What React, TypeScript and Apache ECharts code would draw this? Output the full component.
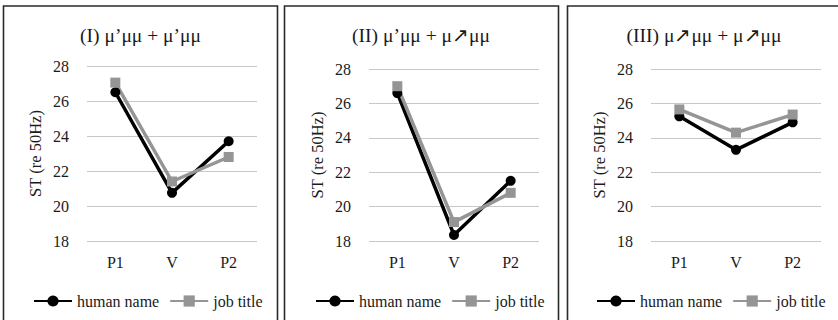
import React, { useEffect, useRef } from "react";
import * as echarts from "echarts";

const categories = ["P1", "V", "P2"];
const titles = ["(I) μ’μμ + μ’μμ", "(II) μ’μμ + μ↗μμ", "(III) μ↗μμ + μ↗μμ"];
const humanI = [26.5, 20.75, 23.7];
const jobI = [27.05, 21.4, 22.8];
const humanII = [26.6, 18.35, 21.5];
const jobII = [27.0, 19.1, 20.8];
const humanIII = [25.25, 23.3, 24.9];
const jobIII = [25.65, 24.3, 25.35];
const yTicks = [18, 20, 22, 24, 26, 28];
const seriesNames = ["human name", "job title"];

const FONT = "Times New Roman";
const INK = "#1a1a1a";

export default function App() {
  const ref = useRef<HTMLDivElement>(null);
  useEffect(() => {
    if (!ref.current) return;
    const chart = echarts.init(ref.current, undefined, { renderer: "svg" });
    const humans = [humanI, humanII, humanIII];
    const jobs = [jobI, jobII, jobIII];
    const frameX = [3.5, 284.5, 567.5];
    const gridLeft = [87, 369, 651];
    const gridTop = [66, 69, 69];
    const legendLeft = [28, 310, 591];
    const titleCenter = [140.5, 421, 704];

    const grids = gridLeft.map((l, i) => ({
      left: l,
      width: 170,
      top: gridTop[i],
      height: 241 - gridTop[i],
      containLabel: false,
    }));
    const xAxes = grids.map((_, i) => ({
      type: "category",
      gridIndex: i,
      data: categories,
      boundaryGap: true,
      axisLine: { show: false },
      axisTick: { show: false },
      axisLabel: {
        color: INK,
        fontFamily: FONT,
        fontStyle: "normal",
        fontWeight: "normal",
        fontSize: 16,
        margin: 13,
      },
    }));
    const yAxes = grids.map((_, i) => ({
      type: "value",
      gridIndex: i,
      min: yTicks[0],
      max: yTicks[yTicks.length - 1],
      interval: 2,
      name: "ST (re 50Hz)",
      nameLocation: "middle",
      nameGap: 43,
      nameTextStyle: { color: INK, fontFamily: FONT, fontSize: 16.5 },
      axisLine: { show: false },
      axisTick: { show: false },
      axisLabel: {
        color: INK,
        fontFamily: FONT,
        fontStyle: "normal",
        fontWeight: "normal",
        fontSize: 16,
        margin: 18,
      },
      splitLine: { show: true, lineStyle: { color: "#c8c8c8", width: 1 } },
    }));
    const series: any[] = [];
    for (let i = 0; i < 3; i++) {
      series.push({
        name: seriesNames[0],
        type: "line",
        xAxisIndex: i,
        yAxisIndex: i,
        data: humans[i],
        symbol: "circle",
        symbolSize: 10,
        lineStyle: { color: "#000000", width: 3.5 },
        itemStyle: { color: "#000000" },
      });
      series.push({
        name: seriesNames[1],
        type: "line",
        xAxisIndex: i,
        yAxisIndex: i,
        data: jobs[i],
        symbol: "rect",
        symbolSize: 10,
        lineStyle: { color: "#959595", width: 3.5 },
        itemStyle: { color: "#959595" },
      });
    }
    const legends = legendLeft.map((l) => ({
      left: l,
      top: 288,
      data: seriesNames,
      itemWidth: 38,
      itemHeight: 14,
      itemGap: 10,
      selectedMode: false,
      textStyle: { color: INK, fontFamily: FONT, fontSize: 16 },
    }));
    const graphic: any[] = [];
    frameX.forEach((x, i) => {
      graphic.push({
        type: "rect",
        shape: { x, y: 6, width: 274, height: 330 },
        style: { fill: "none", stroke: "#2a2a2a", lineWidth: 1.6 },
        silent: true,
        z: -1,
      });
      graphic.push({
        type: "text",
        x: titleCenter[i],
        y: 35,
        style: {
          text: titles[i],
          fontFamily: FONT,
          fontSize: 19.5,
          fill: INK,
          textAlign: "center",
          textVerticalAlign: "middle",
        },
      });
    });
    chart.setOption({
      animation: false,
      backgroundColor: "#ffffff",
      grid: grids,
      xAxis: xAxes,
      yAxis: yAxes,
      legend: legends,
      series,
      graphic,
    });
    return () => chart.dispose();
  }, []);
  return (
    <div
      ref={ref}
      style={{ position: "fixed", left: 0, top: 0, width: 838, height: 320, background: "#fff" }}
    />
  );
}
